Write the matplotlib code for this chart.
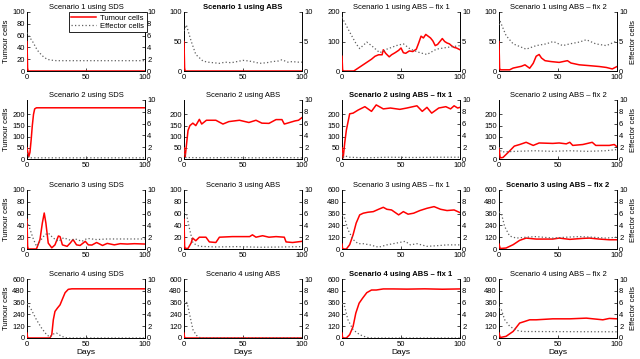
import matplotlib
matplotlib.use("Agg")
import matplotlib.pyplot as plt

plt.rcParams['font.family'] = ['Liberation Sans', 'DejaVu Sans']
plt.rcParams['font.size'] = 5.5

# ---- data: (days, values) ----
# scenario 1
s1_sds_tum = ([0, 0.5, 1, 100], [50, 5, 0, 0])
s1_sds_eff = ([0, 2, 5, 8, 10, 14, 17, 20, 25, 100],
              [6.5, 5.8, 4.9, 3.8, 3.2, 2.4, 2.0, 1.85, 1.75, 1.75])
s1_abs_tum = ([0, 0.5, 1, 100], [50, 5, 0, 0])
s1_abs_eff = ([0, 2, 6, 10, 16, 20, 25, 30, 35, 40, 45, 50, 55, 60, 64, 70, 75, 80, 83, 88, 92, 96, 100],
              [6.8, 7.8, 5.1, 2.8, 1.7, 1.5, 1.4, 1.3, 1.5, 1.4, 1.6, 1.8, 1.7, 1.5, 1.3, 1.4, 1.6, 1.7, 1.9, 1.5, 1.6, 1.5, 1.5])
s1_fix1_tum = ([0, 0.5, 1, 10, 13, 16, 19, 22, 25, 28, 31, 34, 35, 37, 40, 42, 45, 48, 50, 52, 54, 57, 60, 63, 65, 67,
                69, 71, 73, 75, 77, 79, 81, 83, 85, 87, 89, 91, 93, 95, 97, 100],
               [50, 5, 0, 0, 8, 16, 24, 32, 40, 50, 55, 55, 72, 60, 48, 55, 62, 70, 78, 62, 60, 68, 66, 74, 95, 118,
                112, 124, 118, 112, 102, 86, 90, 100, 110, 100, 95, 92, 85, 80, 78, 72])
s1_fix1_eff = ([0, 6.5, 12, 15, 21, 25, 32, 38, 46, 52, 58, 66, 72, 80, 89, 100],
               [9.1, 6.6, 4.6, 3.8, 4.9, 4.3, 3.1, 3.7, 4.3, 4.6, 3.7, 3.1, 2.8, 3.7, 4.0, 4.3])
s1_fix2_tum = ([0, 0.5, 1, 9, 12, 19, 22, 26, 29, 31.5, 34, 36, 39, 44, 51, 58, 61, 68, 77, 85, 91, 96, 100],
               [50, 5, 2, 2, 5, 8, 10.5, 4.7, 13, 25, 28, 22, 17.5, 16, 14.6, 17.5, 13.5, 10.5, 9, 7.6, 6, 3.5, 7.6])
s1_fix2_eff = ([0, 1, 6, 12, 23, 31.5, 40, 46, 54, 60, 68, 74, 82, 91, 100],
               [7.8, 8.4, 6.0, 4.6, 3.7, 4.3, 4.6, 5.0, 4.3, 4.6, 4.9, 5.3, 4.6, 4.3, 5.1])

# scenario 2
s2_sds_tum = ([0, 1.5, 2.5, 3.5, 4.5, 5.5, 6.5, 8, 100], [50, 10, 30, 85, 150, 200, 225, 230, 230])
s2_sds_eff = ([0, 1.5, 100], [1.0, 0.2, 0.2])
s2_abs_tum = ([0, 1, 3.4, 5, 7.5, 10, 13, 15, 19, 27, 33, 38, 47, 55, 61, 66, 72, 78, 83, 85, 87, 94, 97, 100],
              [50, 10, 128, 150, 161, 150, 178, 157, 174, 174, 157, 168, 174, 164, 174, 161, 160, 177, 177, 157, 160, 171, 174, 186])
s2_abs_eff = ([0, 1.5, 20, 40, 60, 80, 100], [1.5, 0.25, 0.2, 0.25, 0.2, 0.25, 0.2])
s2_fix1_tum = ([0, 1, 2.3, 3.7, 6.5, 9.4, 13.7, 19.4, 25, 29, 35, 41, 49, 55, 63.5, 68, 72, 76, 82, 88, 92, 95, 98, 100],
               [50, 5, 72, 130, 203, 206, 220, 235, 214, 243, 225, 229, 223, 229, 239, 214, 232, 206, 229, 235, 225, 239, 229, 232])
s2_fix1_eff = ([0, 1.5, 3, 6, 20, 40, 60, 80, 100], [1.0, 0.3, 0.5, 0.3, 0.2, 0.3, 0.25, 0.3, 0.3])
s2_fix2_tum = ([0, 1, 3.4, 9, 13, 17.5, 23, 29, 34, 45.6, 51, 57, 60, 62.5, 71, 79, 82, 93.5, 97.7, 100],
               [50, 5, 7, 36, 58, 65, 75, 61, 72, 70, 72, 68, 75, 61, 65, 75, 61, 61, 65, 55])
s2_fix2_eff = ([0, 2, 15, 30, 45, 60, 75, 90, 100], [2.0, 1.2, 1.3, 1.4, 1.3, 1.4, 1.3, 1.4, 1.6])

# scenario 3
s3_sds_tum = ([0, 0.5, 1, 8, 11, 13, 14.6, 16, 18, 21, 23.7, 26.6, 28, 30, 34, 36.6, 39, 42, 45, 49.4, 52, 55, 59, 64,
               68, 74, 79, 85, 91, 100],
              [50, 5, 0, 0, 16, 44, 61, 44, 10, 2, 7, 22, 21, 7, 4.5, 10, 16, 7, 6, 13, 7, 6.7, 11, 6,
               9.5, 7, 9, 8.4, 9, 8.4])
s3_sds_eff = ([0, 2.3, 5, 8, 11, 15, 18, 22, 26.6, 31, 36.6, 41, 46.6, 51, 59, 68, 100],
              [4.7, 3.5, 1.9, 0.45, 1.3, 2.4, 2.7, 1.9, 1.3, 1.9, 1.5, 1.7, 1.3, 1.8, 1.6, 1.7, 1.7])
s3_abs_tum = ([0, 0.5, 1, 3.4, 6, 7.3, 10, 13, 18.6, 21.5, 27, 30, 41, 55.6, 58, 61, 66.6, 72, 78, 85, 86.5, 92, 100],
              [50, 5, 1, 1, 10, 18.5, 14, 20, 20, 12, 11, 20, 21, 21, 24, 20, 22.5, 20, 21, 20, 12, 11, 13])
s3_abs_eff = ([0, 2, 4.8, 7.6, 13, 27, 45, 65, 85, 100], [6.3, 6.0, 3.3, 1.0, 0.45, 0.35, 0.4, 0.3, 0.35, 0.4])
s3_fix1_tum = ([0, 0.5, 1, 3.7, 6.5, 9.4, 12, 15, 18, 22, 26.5, 31, 35, 38, 42, 48, 52, 56, 60.7, 66, 72, 78, 83.5,
                89, 95, 100],
               [50, 5, 0, 0, 44, 145, 263, 347, 364, 374, 380, 404, 424, 404, 397, 347, 380, 354, 364, 391, 414, 431, 404,
                391, 397, 370])
s3_fix1_eff = ([0, 2.3, 5, 9.4, 13.7, 18, 23.6, 31, 38, 46, 53.6, 58, 63.5, 72, 80.6, 89, 100],
               [5.8, 5.2, 3.3, 1.6, 0.9, 0.9, 0.7, 0.3, 0.7, 1.0, 1.3, 0.7, 0.9, 0.45, 0.56, 0.7, 0.7])
s3_fix2_tum = ([0, 1, 6, 12, 17.5, 23, 31.5, 45.6, 51, 60, 71, 76.6, 85, 93.5, 100],
               [50, 5, 10, 44, 88, 111, 101, 101, 111, 98, 108, 111, 101, 94, 94])
s3_fix2_eff = ([0, 2, 4.8, 9, 14.6, 23, 31.5, 45.6, 57, 68, 79, 90.7, 100],
               [6.3, 6.0, 3.8, 2.2, 1.85, 2.0, 2.1, 1.85, 2.0, 2.1, 2.0, 1.85, 2.0])

# scenario 4
s4_sds_tum = ([0, 0.5, 1, 19.4, 21, 22.3, 23.7, 25.7, 28, 30.3, 32.3, 35, 38, 100],
              [50, 5, 0, 0, 34, 185, 270, 303, 337, 404, 461, 495, 500, 500])
s4_sds_eff = ([0, 3.7, 8, 12.3, 16.6, 19.4, 22.3, 25, 28, 32, 36.6, 100],
              [5.9, 4.8, 3.1, 1.7, 0.56, 0.17, 0.67, 0.84, 0.45, 0.06, 0, 0])
s4_abs_tum = ([0, 0.5, 1, 100], [50, 5, 0, 0])
s4_abs_eff = ([0, 2, 3.4, 5.4, 7.6, 10.5, 13, 16, 100], [5.9, 6.2, 5.3, 3.4, 1.4, 0.45, 0.1, 0, 0])
s4_fix1_tum = ([0, 0.5, 1, 3.7, 6.5, 9.4, 11.7, 14.5, 17.4, 21, 25, 29, 35, 43.6, 55, 70, 85, 100],
               [50, 5, 0, 0, 34, 118, 253, 354, 404, 461, 488, 488, 499, 499, 497, 500, 496, 499])
s4_fix1_eff = ([0, 2.3, 5, 9.4, 15, 21, 25, 100], [5.9, 5.3, 3.1, 1.4, 0.56, 0.1, 0, 0])
s4_fix2_tum = ([0, 1, 6, 12, 17.5, 21.7, 26, 31.5, 45.6, 60, 74, 88, 93.5, 100],
               [50, 5, 17, 67, 152, 168, 185, 185, 195, 195, 202, 185, 199, 195])
s4_fix2_eff = ([0, 2, 4.8, 9, 14.6, 20, 100], [5.3, 4.8, 3.1, 2.0, 1.3, 1.1, 1.05])

titles = [
    ["Scenario 1 using SDS", "Scenario 1 using ABS", "Scenario 1 using ABS \u2013 fix 1", "Scenario 1 using ABS \u2013 fix 2"],
    ["Scenario 2 using SDS", "Scenario 2 using ABS", "Scenario 2 using ABS \u2013 fix 1", "Scenario 2 using ABS \u2013 fix 2"],
    ["Scenario 3 using SDS", "Scenario 3 using ABS", "Scenario 3 using ABS \u2013 fix 1", "Scenario 3 using ABS \u2013 fix 2"],
    ["Scenario 4 using SDS", "Scenario 4 using ABS", "Scenario 4 using ABS \u2013 fix 1", "Scenario 4 using ABS \u2013 fix 2"],
]
bold_titles = [(0, 1), (1, 2), (2, 3), (3, 2)]

tumour = [
    [s1_sds_tum, s1_abs_tum, s1_fix1_tum, s1_fix2_tum],
    [s2_sds_tum, s2_abs_tum, s2_fix1_tum, s2_fix2_tum],
    [s3_sds_tum, s3_abs_tum, s3_fix1_tum, s3_fix2_tum],
    [s4_sds_tum, s4_abs_tum, s4_fix1_tum, s4_fix2_tum],
]
effector = [
    [s1_sds_eff, s1_abs_eff, s1_fix1_eff, s1_fix2_eff],
    [s2_sds_eff, s2_abs_eff, s2_fix1_eff, s2_fix2_eff],
    [s3_sds_eff, s3_abs_eff, s3_fix1_eff, s3_fix2_eff],
    [s4_sds_eff, s4_abs_eff, s4_fix1_eff, s4_fix2_eff],
]

# left axis limits / ticks
left_ticks = [
    [[0, 20, 40, 60, 80, 100], [0, 50, 100], [0, 100, 200], [0, 50, 100]],
    [[0, 50, 100, 150, 200]] * 4,
    [[0, 20, 40, 60, 80, 100], [0, 20, 40, 60, 80, 100], [0, 120, 240, 360, 480, 600], [0, 120, 240, 360, 480, 600]],
    [[0, 120, 240, 360, 480, 600]] * 4,
]
left_top = [[100, 100, 200, 100], [265] * 4, [100, 100, 600, 600], [600] * 4]
right_ticks = [
    [[0, 2, 4, 6, 8, 10], [0, 5, 10], [0, 5, 10], [0, 5, 10]],
    [[0, 2, 4, 6, 8, 10]] * 4,
    [[0, 2, 4, 6, 8, 10]] * 4,
    [[0, 2, 4, 6, 8, 10]] * 4,
]

fig = plt.figure(figsize=(6.4, 3.59), dpi=100)
lefts = [27, 184, 342, 499]
tops = [12, 100, 190, 279]
W, H = 118, 59

for r in range(4):
    for c in range(4):
        ax = fig.add_axes([lefts[c] / 640, 1 - (tops[r] + H) / 359, W / 640, H / 359])
        ax2 = ax.twinx()
        t, v = tumour[r][c]
        l1, = ax.plot(t, v, color='red', lw=1.1, zorder=3)
        t, v = effector[r][c]
        l2, = ax2.plot(t, v, color='#606060', lw=0.9, ls=(0, (1, 1.8)))
        ax.set_xlim(0, 100)
        ax.set_ylim(0, left_top[r][c])
        ax2.set_ylim(0, 10)
        ax.set_xticks([0, 50, 100])
        ax.set_yticks(left_ticks[r][c])
        ax2.set_yticks(right_ticks[r][c])
        for a in (ax, ax2):
            a.spines['top'].set_visible(False)
            for s in a.spines.values():
                s.set_linewidth(0.7)
            a.tick_params(direction='in', length=2, width=0.5, pad=1.5, labelsize=5.5)
        ax.tick_params(axis='x', pad=2)
        ax.spines['right'].set_visible(False)
        ax2.spines['left'].set_visible(False)
        ax2.spines['bottom'].set_visible(False)
        w = 'bold' if (r, c) in bold_titles else 'normal'
        ax.set_title(titles[r][c], fontsize=5.5, fontweight=w, pad=2)
        if c == 0:
            ax.set_ylabel("Tumour cells", fontsize=5.5, labelpad=2)
        if c == 3:
            ax2.set_ylabel("Effector cells", fontsize=5.5, labelpad=2)
        if r == 3:
            ax.set_xlabel("Days", fontsize=6, labelpad=1)
        if r == 0 and c == 0:
            leg = ax2.legend([l1, l2], ["Tumour cells", "Effector cells"], loc='upper right',
                             bbox_to_anchor=(1.015, 1.0), borderaxespad=0, fontsize=5.5,
                             fancybox=False, edgecolor='black', framealpha=1,
                             handlelength=3.2, labelspacing=0.15, borderpad=0.3, handletextpad=0.6)
            leg.get_frame().set_linewidth(0.6)

fig.savefig("out.png", dpi=100)
